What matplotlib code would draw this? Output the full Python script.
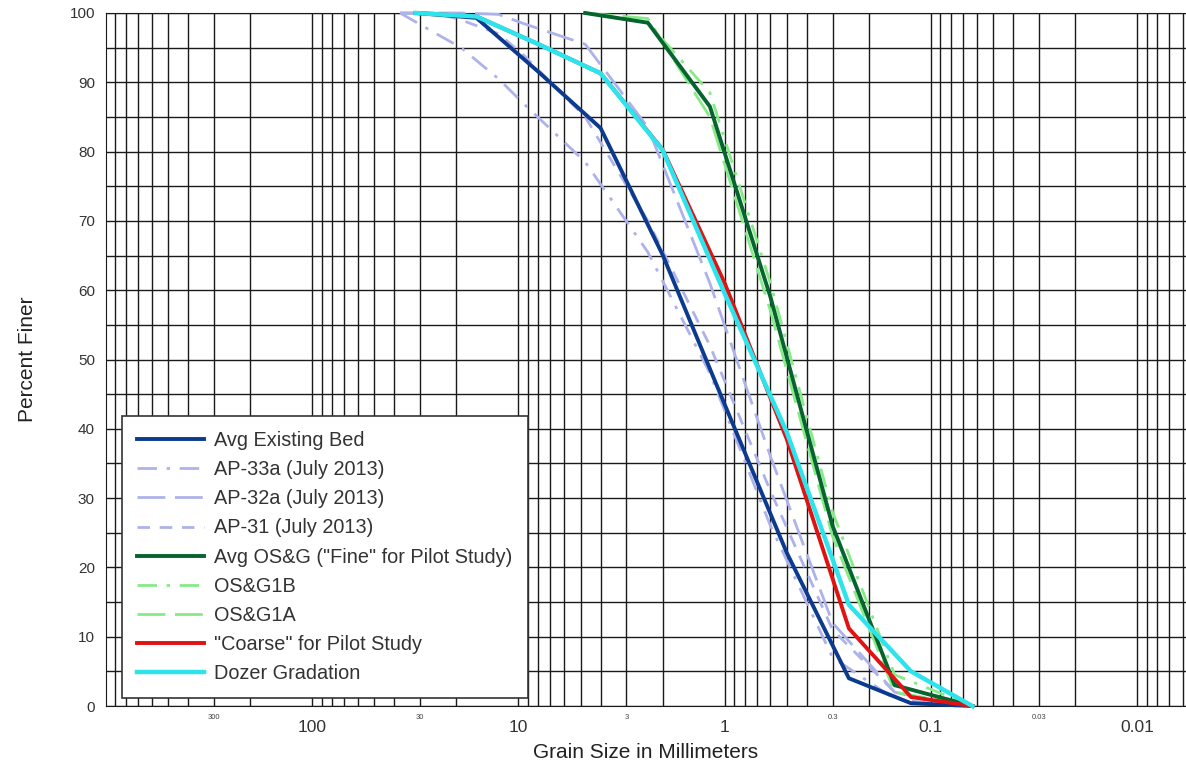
import matplotlib
matplotlib.use('Agg')
import matplotlib.pyplot as plt
import matplotlib.transforms as mtransforms
import numpy as np

plt.rcParams['font.family'] = ['Liberation Sans', 'DejaVu Sans']

# sieve sizes (mm) and percent finer
euro_mm = [31.5, 16, 8, 4, 2, 1, 0.5, 0.25, 0.125, 0.063]
bed_avg = [100, 99.3, 91.5, 83.4, 65.1, 43.5, 22.1, 4.0, 0.4, 0]
dozer = [100, 99.5, 95.5, 91.3, 80.2, 59.5, 39.5, 14.6, 5.0, 0]
coarse = [100, 99.5, 95.5, 91.3, 80.3, 61.0, 38.5, 11.2, 1.3, 0]

astm_mm = [37.5, 25, 19, 12.5, 9.5, 4.75, 2.36, 1.18, 0.6, 0.3, 0.15, 0.075]
ap33a = [100, 97, 95, 90.5, 87, 78.5, 65.5, 48, 26, 7, 1, 0]
ap32a = [100, 100, 100, 99.8, 98.5, 95.5, 83.5, 61, 36, 12, 2, 0]
ap31 = [100, 100, 99, 97, 94, 85, 70, 52, 31, 11, 2, 0]

osg_mm = [4.75, 2.36, 1.18, 0.6, 0.3, 0.15, 0.063]
osg_avg = [100, 98.6, 86.5, 59, 26, 3.0, 0]
osg1b = [100, 98.6, 88.5, 61, 28, 4.5, 0]
osg1a = [100, 99.2, 85.0, 57, 24.5, 2.0, 0]

major_x = [100, 10, 1, 0.1, 0.01]
major_lbl = ['100', '10', '1', '0.1', '0.01']
small_x = [300, 30, 3, 0.3, 0.03]
small_lbl = ['300', '30', '3', '0.3', '0.03']

lav = '#aeb2ea'
ltgreen = '#86ea86'

fig = plt.figure(figsize=(11.86, 7.69), dpi=100)
ax = fig.add_axes([106/1186, 63/769, 1080/1186, 693/769])

ax.plot(euro_mm, bed_avg, color='#0b3a8e', lw=2.8, label='Avg Existing Bed', clip_on=False, zorder=5)
ax.plot(astm_mm, ap33a, color=lav, lw=2, ls=(0, (7, 3.5, 1.2, 3.5)), label='AP-33a (July 2013)', clip_on=False, zorder=3)
ax.plot(astm_mm, ap32a, color=lav, lw=2, ls=(0, (10, 3.5)), label='AP-32a (July 2013)', clip_on=False, zorder=3)
ax.plot(astm_mm, ap31, color=lav, lw=2, ls=(0, (4.5, 3.5)), label='AP-31 (July 2013)', clip_on=False, zorder=3)
ax.plot(osg_mm, osg_avg, color='#06642e', lw=2.8, label='Avg OS&G ("Fine" for Pilot Study)', clip_on=False, zorder=5)
ax.plot(osg_mm, osg1b, color=ltgreen, lw=2, ls=(0, (7, 3.5, 1.2, 3.5)), label='OS&G1B', clip_on=False, zorder=3)
ax.plot(osg_mm, osg1a, color=ltgreen, lw=2, ls=(0, (10, 3.5)), label='OS&G1A', clip_on=False, zorder=3)
ax.plot(euro_mm, coarse, color='#e01212', lw=2.8, label='"Coarse" for Pilot Study', clip_on=False, zorder=5)
ax.plot(euro_mm, dozer, color='#2ee4ec', lw=3.2, label='Dozer Gradation', clip_on=False, zorder=6)

ax.set_xscale('log')
ax.set_xlim(1000, 0.0058)
ax.set_ylim(0, 100)

ax.xaxis.set_major_locator(matplotlib.ticker.FixedLocator(major_x))
ax.xaxis.set_major_formatter(matplotlib.ticker.FixedFormatter(major_lbl))
ax.xaxis.set_minor_locator(matplotlib.ticker.LogLocator(base=10, subs=np.arange(2, 10)))
ax.xaxis.set_minor_formatter(matplotlib.ticker.NullFormatter())
ax.set_yticks(np.arange(0, 101, 10))
ax.set_yticks(np.arange(0, 101, 5), minor=True)

ax.grid(True, which='both', color='#1a1a1a', lw=1.0)
ax.set_axisbelow(True)
ax.tick_params(which='both', length=0, labelcolor='#333333')
ax.tick_params(axis='x', labelsize=12.5, pad=10)
ax.tick_params(axis='y', labelsize=11, pad=8)
for s in ax.spines.values():
    s.set_color('#1a1a1a')
ax.spines['right'].set_visible(False)

trans = mtransforms.blended_transform_factory(ax.transData, ax.transAxes)
for xv, t in zip(small_x, small_lbl):
    ax.text(xv, -0.011, t, transform=trans, ha='center', va='top', fontsize=5.5, color='#444444')

ax.set_xlabel('Grain Size in Millimeters', fontsize=15, color='#222222', labelpad=6)
ax.set_ylabel('Percent Finer', fontsize=15, color='#222222')
ax.yaxis.set_label_coords(-0.064, 0.5)

leg = ax.legend(loc='lower left', bbox_to_anchor=(0.0148, 0.0115), borderaxespad=0,
                fontsize=14.3, handlelength=3.4, handletextpad=0.5, labelspacing=0.51,
                borderpad=0.75, fancybox=False, framealpha=1, edgecolor='#333333')
leg.get_frame().set_linewidth(1.2)
for t in leg.get_texts():
    t.set_color('#333333')

fig.savefig('out.png', dpi=100)
